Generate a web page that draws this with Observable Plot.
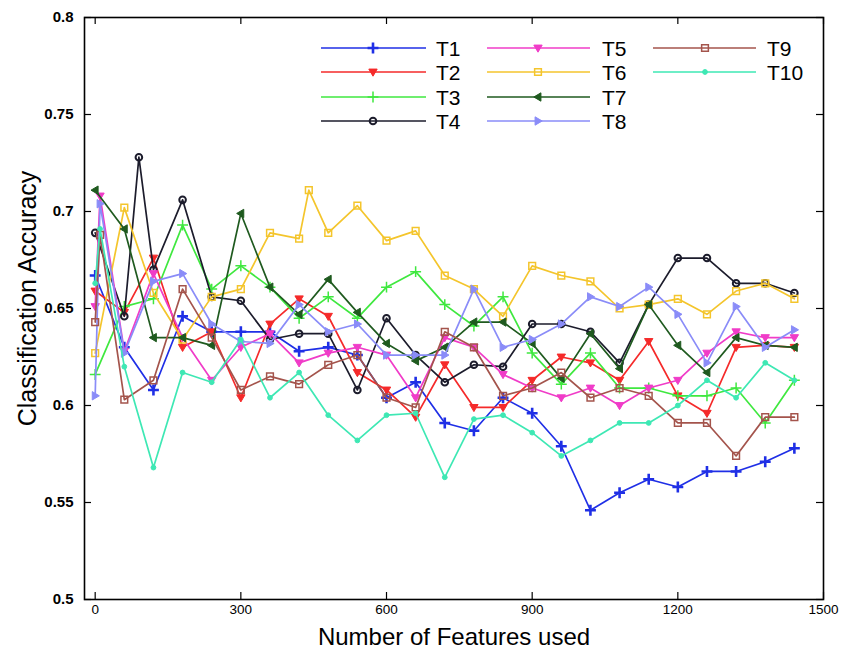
<!DOCTYPE html>
<html><head><meta charset="utf-8">
<script src="https://cdn.jsdelivr.net/npm/d3@7"></script>
<script src="https://cdn.jsdelivr.net/npm/@observablehq/plot@0.6"></script>
<style>
body{margin:0;background:#fff;}
#wrap{position:relative;width:847px;height:654px;font-family:"Liberation Sans",Arial,sans-serif;}
</style></head><body><div id="wrap"></div>
<script>
// x positions (number of features)
const features = [0, 10, 60, 90, 120, 180, 240, 300, 360, 420, 440, 480, 540, 600, 660, 720, 780, 840, 900, 960, 1020, 1080, 1140, 1200, 1260, 1320, 1380, 1440];
const T1  = [0.667, null, 0.630, null, 0.608, 0.646, 0.638, 0.638, 0.638, 0.628, null, 0.630, 0.626, 0.604, 0.612, 0.591, 0.587, 0.604, 0.596, 0.579, 0.546, 0.555, 0.562, 0.558, 0.566, 0.566, 0.571, 0.578];
const T2  = [0.659, null, 0.648, null, 0.676, 0.630, 0.638, 0.604, 0.642, 0.655, null, 0.646, 0.617, 0.608, 0.594, 0.621, 0.599, 0.599, 0.613, 0.625, 0.622, 0.613, 0.633, 0.605, 0.596, 0.630, 0.631, 0.630];
const T3  = [0.616, null, 0.651, null, 0.655, 0.693, 0.660, 0.672, 0.661, 0.645, null, 0.656, 0.645, 0.661, 0.669, 0.652, 0.641, 0.656, 0.627, 0.611, 0.627, 0.609, 0.609, 0.605, 0.605, 0.609, 0.591, 0.613];
const T4  = [0.689, null, 0.646, 0.728, 0.670, 0.706, 0.656, 0.654, 0.634, 0.637, null, 0.637, 0.608, 0.645, 0.626, 0.612, 0.621, 0.620, 0.642, 0.642, 0.638, 0.622, 0.652, 0.676, 0.676, 0.663, 0.663, 0.658];
const T5  = [0.651, 0.708, 0.628, null, 0.668, 0.635, 0.613, 0.630, 0.637, 0.622, null, 0.627, 0.630, 0.626, 0.604, 0.635, 0.630, 0.616, 0.609, 0.604, 0.609, 0.600, 0.609, 0.613, 0.627, 0.638, 0.635, 0.635];
const T6  = [0.627, null, 0.702, null, 0.658, 0.634, 0.656, 0.660, 0.689, 0.686, 0.711, 0.689, 0.703, 0.685, 0.690, 0.667, 0.660, 0.646, 0.672, 0.667, 0.664, 0.650, 0.652, 0.655, 0.647, 0.659, 0.663, 0.655];
const T7  = [0.711, null, 0.691, null, 0.635, 0.635, 0.631, 0.699, 0.661, 0.647, null, 0.665, 0.648, 0.632, 0.623, 0.630, 0.643, 0.643, 0.632, 0.614, 0.637, 0.619, 0.652, 0.631, 0.617, 0.635, 0.631, 0.630];
const T8  = [0.605, 0.704, 0.627, null, 0.664, 0.668, 0.642, 0.633, 0.632, 0.652, null, 0.638, 0.642, 0.626, 0.626, 0.626, 0.660, 0.630, 0.634, 0.642, 0.656, 0.651, 0.661, 0.647, 0.622, 0.651, 0.630, 0.639];
const T9  = [0.643, 0.688, 0.603, null, 0.613, 0.660, 0.635, 0.608, 0.615, 0.611, null, 0.621, 0.626, 0.604, 0.599, 0.638, 0.630, 0.605, 0.609, 0.617, 0.604, 0.609, 0.605, 0.591, 0.591, 0.574, 0.594, 0.594];
const T10 = [0.663, 0.691, 0.620, null, 0.568, 0.617, 0.612, 0.634, 0.604, 0.617, null, 0.595, 0.582, 0.595, 0.596, 0.563, 0.593, 0.595, 0.586, 0.574, 0.582, 0.591, 0.591, 0.600, 0.613, 0.604, 0.622, 0.613];

const seriesNames = ["T1","T2","T3","T4","T5","T6","T7","T8","T9","T10"];
const seriesValues = [T1,T2,T3,T4,T5,T6,T7,T8,T9,T10];
const seriesColors = ["#1f2fe6","#f52a2a","#3fe83f","#1c1c2c","#f03cc8","#f4c52c","#1f5a1f","#8a8cf8","#a4544c","#3ee8b4"];
const seriesMarkers = ["plusBold","triDown","plus","circle","triDown","square","triLeft","triRight","square","dot"];
const xTicks = [0, 300, 600, 900, 1200, 1500];
const yTicks = [0.5, 0.55, 0.6, 0.65, 0.7, 0.75, 0.8];

// custom triangle symbols
const triDown = {draw(c, size){ const s = Math.sqrt(size)*0.62; c.moveTo(-s,-s*0.7); c.lineTo(s,-s*0.7); c.lineTo(0,s*1.0); c.closePath(); }};
const triLeft = {draw(c, size){ const s = Math.sqrt(size)*0.62; c.moveTo(-s,0); c.lineTo(s*0.7,-s); c.lineTo(s*0.7,s); c.closePath(); }};
const triRight = {draw(c, size){ const s = Math.sqrt(size)*0.62; c.moveTo(s,0); c.lineTo(-s*0.7,-s); c.lineTo(-s*0.7,s); c.closePath(); }};

function markerStyle(kind, color){
  switch(kind){
    case "plusBold": return {symbol: "plus", r: 3.6, fill: "none", stroke: color, strokeWidth: 2.6};
    case "plus": return {symbol: "plus", r: 3.6, fill: "none", stroke: color, strokeWidth: 1.5};
    case "circle": return {symbol: "circle", r: 3.3, fill: "none", stroke: color, strokeWidth: 2};
    case "square": return {symbol: "square", r: 3.8, fill: "none", stroke: color, strokeWidth: 1.5};
    case "dot": return {symbol: "circle", r: 2.4, fill: color, stroke: color, strokeWidth: 1};
    case "triDown": return {symbol: triDown, r: 3.8, fill: color, stroke: color, strokeWidth: 1};
    case "triLeft": return {symbol: triLeft, r: 3.8, fill: color, stroke: color, strokeWidth: 1};
    case "triRight": return {symbol: triRight, r: 3.8, fill: color, stroke: color, strokeWidth: 1};
  }
}
const d3Sym = {plusBold: d3.symbolPlus, plus: d3.symbolPlus, circle: d3.symbolCircle, square: d3.symbolSquare, dot: d3.symbolCircle, triDown, triLeft, triRight};

const W = 847, H = 654, mL = 84, mR = 24, mT = 17, mB = 55;
const innerW = W - mL - mR, innerH = H - mT - mB;

const marks = [];
seriesNames.forEach((name, i) => {
  const rows = [];
  seriesValues[i].forEach((v, j) => { if (v != null) rows.push({x: features[j], y: v}); });
  marks.push(Plot.line(rows, {x: "x", y: "y", stroke: seriesColors[i], strokeWidth: 1.7}));
  marks.push(Plot.dot(rows, {x: "x", y: "y", ...markerStyle(seriesMarkers[i], seriesColors[i])}));
});

const chart = Plot.plot({
  width: W, height: H,
  marginLeft: mL, marginRight: mR, marginTop: mT, marginBottom: mB,
  style: {fontFamily: "'Liberation Sans', Arial, sans-serif", background: "#fff", color: "#000"},
  x: {domain: [-22, 1500]},
  y: {domain: [0.5, 0.8]},
  marks: [
    Plot.axisX({ticks: xTicks, tickSize: 0, tickPadding: 5, fontSize: 13.5, tickFormat: d => String(d), label: null}),
    Plot.axisY({ticks: yTicks, tickSize: 0, tickPadding: 11, fontSize: 15, fontWeight: "bold", tickFormat: d => String(+d.toFixed(2)), label: null}),
    Plot.tickY(yTicks, {y: d => d, insetRight: innerW - 7, stroke: "#000", strokeWidth: 1.2}),
    Plot.tickY(yTicks, {y: d => d, insetLeft: innerW - 7, stroke: "#000", strokeWidth: 1.2}),
    Plot.tickX(xTicks, {x: d => d, insetTop: innerH - 7, stroke: "#000", strokeWidth: 1.2}),
    Plot.tickX(xTicks, {x: d => d, insetBottom: innerH - 7, stroke: "#000", strokeWidth: 1.2}),
    ...marks,
    Plot.frame({stroke: "#000", strokeWidth: 1.6}),
    Plot.text(["Number of Features used"], {frameAnchor: "bottom", dy: 38, textAnchor: "middle", lineAnchor: "middle", fontSize: 24, fill: "#000"}),
    Plot.text(["Classification Accuracy"], {frameAnchor: "left", dx: -57, dy: -10, rotate: -90, textAnchor: "middle", lineAnchor: "middle", fontSize: 25, fill: "#000"})
  ]
});
document.getElementById("wrap").appendChild(chart);

// legend inside the plot area
const svg = d3.select(chart);
const lg = svg.append("g").attr("class", "legend");
const cols = [{x1: 321, x2: 426, mx: 373, tx: 436}, {x1: 487, x2: 590, mx: 538, tx: 602}, {x1: 653, x2: 756, mx: 705, tx: 767}];
const rowsY = [48, 72, 97, 121];
seriesNames.forEach((name, i) => {
  const col = cols[i < 4 ? 0 : i < 8 ? 1 : 2];
  const y = rowsY[i < 4 ? i : i < 8 ? i - 4 : i - 8];
  const color = seriesColors[i];
  lg.append("line").attr("x1", col.x1).attr("x2", col.x2).attr("y1", y).attr("y2", y)
    .attr("stroke", color).attr("stroke-width", 1.7);
  const ms = markerStyle(seriesMarkers[i], color);
  lg.append("path").attr("d", d3.symbol().type(d3Sym[seriesMarkers[i]]).size(Math.PI * ms.r * ms.r)())
    .attr("transform", `translate(${col.mx},${y})`)
    .attr("fill", ms.fill).attr("stroke", ms.stroke).attr("stroke-width", ms.strokeWidth);
  lg.append("text").attr("x", col.tx).attr("y", y).attr("dy", "0.36em")
    .attr("text-anchor", "start").attr("font-size", 21).attr("fill", "#000").text(name);
});
</script></body></html>
